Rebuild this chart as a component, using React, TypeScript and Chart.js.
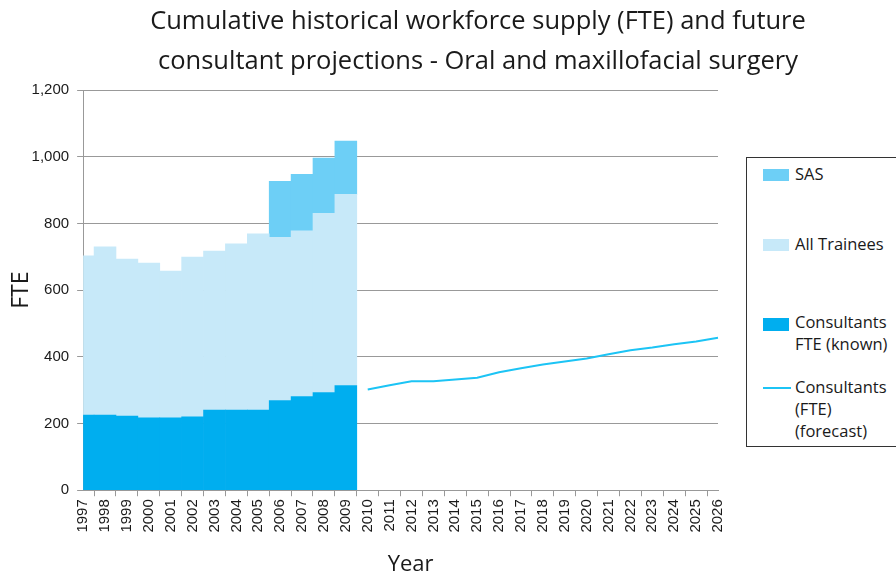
import React, { useEffect, useRef } from "react";
import { Chart, registerables } from "chart.js";

Chart.register(...registerables);

const years = [
  "1997", "1998", "1999", "2000", "2001", "2002", "2003", "2004", "2005", "2006",
  "2007", "2008", "2009", "2010", "2011", "2012", "2013", "2014", "2015", "2016",
  "2017", "2018", "2019", "2020", "2021", "2022", "2023", "2024", "2025", "2026",
];

const historicalCount = 13; // 1997-2009

const consultantsKnown = [225, 225, 222, 217, 217, 220, 240, 240, 240, 269, 281, 293, 314];
const allTrainees = [478, 505, 471, 464, 440, 479, 477, 499, 529, 489, 497, 537, 573];
const sas = [null, null, null, null, null, null, null, null, null, 168, 169, 166, 160];
const consultantsForecast = [302, 315, 327, 327, 332, 337, 354, 366, 377, 386, 395, 408, 420, 428, 438, 446, 457];

const yTicks = [0, 200, 400, 600, 800, 1000, 1200];

const titleLines = [
  "Cumulative historical workforce supply (FTE) and future",
  "consultant projections - Oral and maxillofacial surgery",
];
const xTitle = "Year";

const COL_CONS = "#00AEEF";
const COL_TRAIN = "#C7E9F9";
const COL_SAS = "#6DCFF6";
const COL_LINE = "#1CC4F5";

function padHistorical(arr: (number | null)[]) {
  return years.map((_, i) => (i < historicalCount ? arr[i] : null));
}
function padForecast(arr: number[]) {
  return years.map((_, i) => (i >= historicalCount ? arr[i - historicalCount] : null));
}

const titlePlugin = {
  id: "centeredTitle",
  afterDraw(chart: any) {
    const ctx = chart.ctx;
    ctx.save();
    ctx.fillStyle = "#1a1a1a";
    ctx.font = "25.5px 'Open Sans'";
    ctx.textAlign = "center";
    ctx.textBaseline = "middle";
    ctx.fillText(titleLines[0], 478, 22);
    ctx.fillText(titleLines[1], 478, 62);
    // x-axis title, drawn slightly right of the plot centre as in the original
    const xs = chart.scales.x;
    ctx.font = "22px 'Open Sans'";
    ctx.fillText(xTitle, (xs.left + xs.right) / 2 + 10, xs.bottom - 13.2);
    ctx.restore();
  },
};

export default function App() {
  const canvasRef = useRef<HTMLCanvasElement>(null);

  useEffect(() => {
    if (!canvasRef.current) return;
    const chart = new Chart(canvasRef.current, {
      type: "bar",
      plugins: [titlePlugin],
      data: {
        labels: years,
        datasets: [
          {
            type: "bar",
            label: "Consultants FTE (known)",
            data: padHistorical(consultantsKnown),
            backgroundColor: COL_CONS,
            borderWidth: 0,
            barPercentage: 1,
            categoryPercentage: 1,
            stack: "hist",
            clip: 0,
            order: 2,
          } as any,
          {
            type: "bar",
            label: "All Trainees",
            data: padHistorical(allTrainees),
            backgroundColor: COL_TRAIN,
            borderWidth: 0,
            barPercentage: 1,
            categoryPercentage: 1,
            stack: "hist",
            clip: 0,
            order: 2,
          },
          {
            type: "bar",
            label: "SAS",
            data: padHistorical(sas),
            backgroundColor: COL_SAS,
            borderWidth: 0,
            barPercentage: 1,
            categoryPercentage: 1,
            stack: "hist",
            clip: 0,
            order: 2,
          },
          {
            type: "line",
            label: "Consultants (FTE) (forecast)",
            data: padForecast(consultantsForecast),
            borderColor: COL_LINE,
            backgroundColor: COL_LINE,
            borderWidth: 2,
            pointRadius: 0,
            tension: 0,
            fill: false,
            stack: "forecast",
            order: 1,
          },
        ],
      },
      options: {
        animation: false,
        responsive: false,
        maintainAspectRatio: false,
        layout: { padding: { top: 90, right: 178, bottom: 0, left: 3 } },
        plugins: {
          legend: { display: false },
          tooltip: { enabled: false },
          title: { display: false },
        },
        scales: {
          x: {
            stacked: true,
            offset: false,
            grid: {
              drawOnChartArea: false,
              drawTicks: true,
              tickLength: 6,
              color: "#999999",
            },
            border: { color: "#999999" },
            ticks: {
              autoSkip: false,
              maxRotation: 90,
              minRotation: 90,
              color: "#1a1a1a",
              font: { family: "'Liberation Sans'", size: 15 },
              padding: 3,
            },
            title: {
              display: true,
              text: xTitle,
              color: "rgba(0,0,0,0)",
              font: { family: "'Open Sans'", size: 22 },
              padding: { top: 16, bottom: 0 },
            },
          },
          y: {
            stacked: true,
            min: 0,
            max: 1200,
            afterBuildTicks: (axis: any) => {
              axis.ticks = yTicks.map((v) => ({ value: v }));
            },
            grid: {
              color: "#999999",
              tickLength: 6,
            },
            border: { color: "#999999" },
            ticks: {
              color: "#1a1a1a",
              font: { family: "'Liberation Sans'", size: 15 },
              padding: 8,
              callback: (v: any) => Number(v).toLocaleString("en-US"),
            },
            title: {
              display: true,
              text: "FTE",
              color: "#1a1a1a",
              font: { family: "'Open Sans'", size: 23, lineHeight: 0.226 },
              padding: { top: 15.4, bottom: 0 },
            },
          },
        },
      },
    });
    return () => chart.destroy();
  }, []);

  const legendText: React.CSSProperties = {
    position: "absolute",
    left: 48,
    fontFamily: "'Open Sans', sans-serif",
    fontSize: 16.5,
    lineHeight: "22px",
    color: "#1a1a1a",
    whiteSpace: "nowrap",
  };

  return (
    <div style={{ position: "absolute", left: 0, top: 0, width: 896, height: 571, background: "#fff", overflow: "hidden" }}>
      <canvas ref={canvasRef} width={896} height={578} style={{ display: "block" }} />
      <div
        style={{
          position: "absolute",
          left: 746,
          top: 157,
          width: 170,
          height: 290,
          border: "1px solid #333",
          background: "#fff",
          boxSizing: "border-box",
        }}
      >
        <div style={{ position: "absolute", left: 16, top: 11, width: 26, height: 12, background: COL_SAS }} />
        <div style={{ ...legendText, top: 5 }}>SAS</div>
        <div style={{ position: "absolute", left: 16, top: 81, width: 26, height: 12, background: COL_TRAIN }} />
        <div style={{ ...legendText, top: 75 }}>All Trainees</div>
        <div style={{ position: "absolute", left: 16, top: 160, width: 26, height: 13, background: COL_CONS }} />
        <div style={{ ...legendText, top: 153 }}>Consultants<br />FTE (known)</div>
        <div style={{ position: "absolute", left: 16, top: 229, width: 28, height: 2, background: COL_LINE }} />
        <div style={{ ...legendText, top: 218 }}>Consultants<br />(FTE)<br />(forecast)</div>
      </div>
    </div>
  );
}
